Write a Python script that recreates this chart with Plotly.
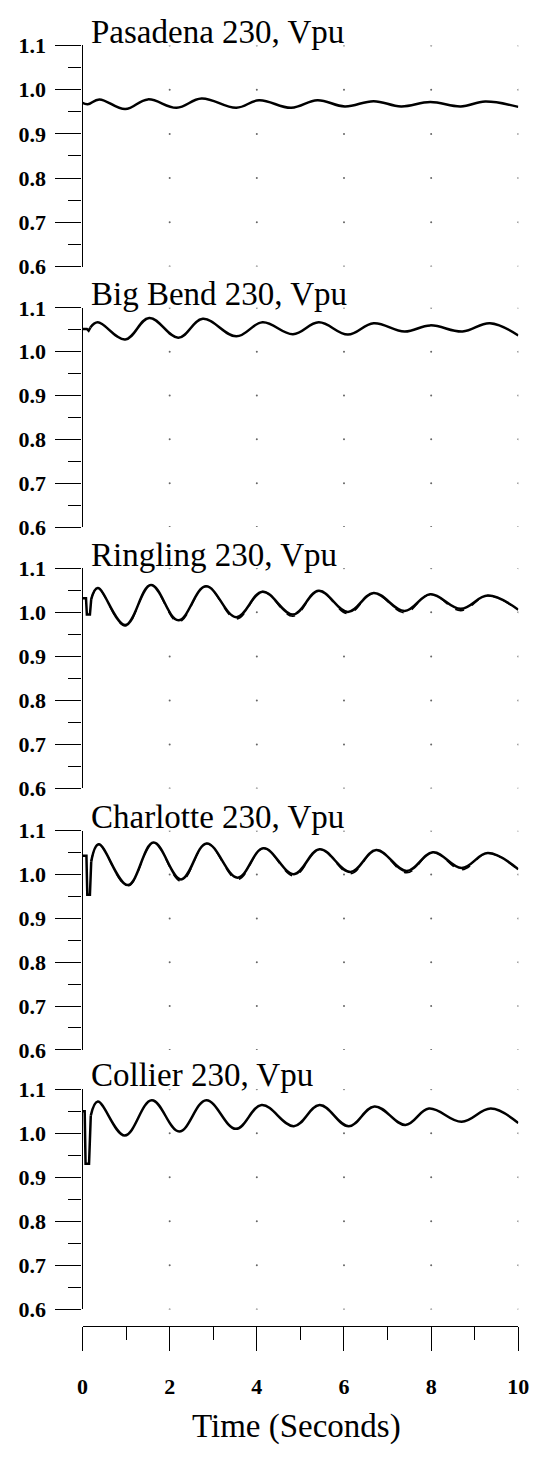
import numpy as np
import plotly.graph_objects as go

# bus voltage traces (time in s, voltage in pu)
stations = ["Pasadena 230, Vpu", "Big Bend 230, Vpu", "Ringling 230, Vpu",
            "Charlotte 230, Vpu", "Collier 230, Vpu"]

t_pasadena = [0.0, 0.12, 0.385, 0.98, 1.50, 2.16, 2.73, 3.53, 4.05, 4.79,
              5.39, 6.02, 6.68, 7.31, 7.98, 8.68, 9.24, 10.0]
v_pasadena = [0.970, 0.967, 0.978, 0.956, 0.978, 0.959, 0.980, 0.959, 0.976, 0.959,
              0.976, 0.962, 0.974, 0.962, 0.972, 0.962, 0.973, 0.961]

t_bigbend = [0.0, 0.10, 0.14, 0.18, 0.35, 0.98, 1.53, 2.20, 2.76, 3.53, 4.13,
             4.83, 5.42, 6.09, 6.68, 7.39, 7.98, 8.72, 9.35, 10.0]
v_bigbend = [1.052, 1.052, 1.048, 1.055, 1.067, 1.028, 1.077, 1.032, 1.075, 1.035, 1.067,
             1.040, 1.067, 1.039, 1.065, 1.046, 1.060, 1.046, 1.065, 1.037]

t_ringling = [0.0, 0.08, 0.10, 0.17, 0.20, 0.35, 0.98, 1.57, 2.20, 2.83, 3.53,
              4.13, 4.83, 5.42, 6.09, 6.68, 7.39, 7.98, 8.68, 9.30, 10.0]
v_ringling = [1.032, 1.032, 0.995, 0.995, 1.030, 1.055, 0.971, 1.062, 0.982, 1.059, 0.989,
              1.047, 0.995, 1.049, 1.001, 1.044, 1.003, 1.041, 1.008, 1.038, 1.006]
# second (dashed) case, visible only where it dips below the solid trace
v_ringling_b = [1.032, 1.032, 0.995, 0.995, 1.030, 1.055, 0.969, 1.062, 0.978, 1.059, 0.985,
                1.047, 0.991, 1.049, 0.997, 1.044, 0.999, 1.041, 1.004, 1.038, 1.004]

t_charlotte = [0.0, 0.09, 0.11, 0.17, 0.20, 0.37, 1.04, 1.63, 2.26, 2.85, 3.56,
               4.15, 4.85, 5.44, 6.15, 6.74, 7.44, 8.04, 8.70, 9.30, 10.0]
v_charlotte = [1.043, 1.043, 0.954, 0.954, 1.030, 1.069, 0.976, 1.073, 0.989, 1.071, 0.993,
               1.060, 1.001, 1.058, 1.006, 1.056, 1.008, 1.051, 1.015, 1.049, 1.012]
v_charlotte_b = [1.043, 1.043, 0.954, 0.954, 1.030, 1.069, 0.974, 1.073, 0.985, 1.071, 0.989,
                 1.060, 0.997, 1.058, 1.002, 1.056, 1.004, 1.051, 1.011, 1.049, 1.010]

t_collier = [0.0, 0.05, 0.07, 0.15, 0.19, 0.35, 0.97, 1.59, 2.22, 2.84, 3.52,
             4.11, 4.85, 5.44, 6.11, 6.70, 7.41, 7.95, 8.70, 9.37, 10.0]
v_collier = [1.050, 1.050, 0.931, 0.931, 1.040, 1.072, 0.995, 1.075, 1.004, 1.075, 1.010,
             1.064, 1.016, 1.064, 1.016, 1.061, 1.019, 1.056, 1.026, 1.056, 1.023]

y_ticks = [0.6, 0.7, 0.8, 0.9, 1.0, 1.1]
x_ticks = [0, 2, 4, 6, 8, 10]
grid_t = [2, 4, 6, 8, 10]

series = [(t_pasadena, v_pasadena, None), (t_bigbend, v_bigbend, None),
          (t_ringling, v_ringling, v_ringling_b), (t_charlotte, v_charlotte, v_charlotte_b),
          (t_collier, v_collier, None)]
# number of leading points forming the fault step (drawn straight, not smoothed)
step_n = [0, 4, 5, 5, 5]

W, H = 539, 1460


def fx(px):
    return px / W


def fy(px):
    return 1 - px / H


# pixel rows of the 1.1 and 0.6 levels for each panel
panel_px = [(34, 259), (301, 524), (566, 790), (833, 1056), (1096, 1320)]
x_dom = [fx(79), fx(529)]
axis_px = 1337

font = "Liberation Serif"
fig = go.Figure()

gx = np.repeat(grid_t, len(y_ticks))
gy = np.tile(y_ticks, len(grid_t))

for i, (t, v, vb) in enumerate(series):
    n = "" if i == 0 else str(i + 1)
    ax = dict(xaxis="x" + n, yaxis="y" + n)
    fig.add_trace(go.Scatter(x=gx, y=gy, mode="markers", marker=dict(size=2, color="#666"),
                             hoverinfo="skip", **ax))
    k = step_n[i]
    if vb is not None:
        fig.add_trace(go.Scatter(x=t[max(k - 1, 0):], y=vb[max(k - 1, 0):], mode="lines",
                                 line=dict(color="black", width=1.6, dash="dash",
                                           shape="spline", smoothing=1.1), **ax))
    if k:
        fig.add_trace(go.Scatter(x=t[:k], y=v[:k], mode="lines",
                                 line=dict(color="black", width=2.5), **ax))
    fig.add_trace(go.Scatter(x=t[max(k - 1, 0):], y=v[max(k - 1, 0):], mode="lines",
                             line=dict(color="black", width=2.5, shape="spline", smoothing=1.1),
                             **ax))

    top, bot = panel_px[i]
    last = i == len(series) - 1
    xa = dict(domain=x_dom, range=[0, 10], showgrid=False, zeroline=False, fixedrange=True)
    if last:
        xa.update(anchor="free", position=fy(axis_px), showline=True, linecolor="black",
                  linewidth=1.3, ticks="outside", ticklen=24, tickwidth=1.3, tickcolor="black",
                  tickvals=x_ticks, ticklabelstandoff=16, ticklabeloverflow="allow",
                  tickfont=dict(family=font, size=22, color="black", weight="bold"),
                  minor=dict(dtick=1, tick0=0, ticks="outside", ticklen=13,
                             tickcolor="black", tickwidth=1.3, showgrid=False))
    else:
        xa.update(visible=False, anchor="y" + n)
    ya = dict(domain=[fy(bot), fy(top)], range=[0.6, 1.1], anchor="x" + n,
              showgrid=False, zeroline=False, showline=True, linecolor="black", linewidth=1.2,
              ticks="outside", ticklen=26, tickwidth=1.3, tickcolor="black",
              tickvals=y_ticks, tickformat=".1f", ticklabelstandoff=5,
              tickfont=dict(family=font, size=22, color="black", weight="bold"),
              minor=dict(dtick=0.05, tick0=0.6, ticks="outside", ticklen=13,
                         tickcolor="black", tickwidth=1.3, showgrid=False),
              fixedrange=True)
    fig.layout["xaxis" + n] = xa
    fig.layout["yaxis" + n] = ya

    fig.add_annotation(text=stations[i], x=fx(86), y=fy(top - 14), xref="paper",
                       yref="paper", xanchor="left", yanchor="middle", showarrow=False,
                       font=dict(family=font, size=33, color="black"))

fig.add_annotation(text="Time (Seconds)", x=fx(300), y=fy(1439), xref="paper",
                   yref="paper", xanchor="center", yanchor="middle", showarrow=False,
                   font=dict(family=font, size=33, color="black"))

fig.update_layout(width=W, height=H, margin=dict(l=0, r=0, t=0, b=0),
                  paper_bgcolor="white", plot_bgcolor="white", showlegend=False)

# drop the default page margin so figure pixels line up with the window
fig.write_html("out.html", config={"displayModeBar": False},
               post_script="document.body.style.margin='0';")
